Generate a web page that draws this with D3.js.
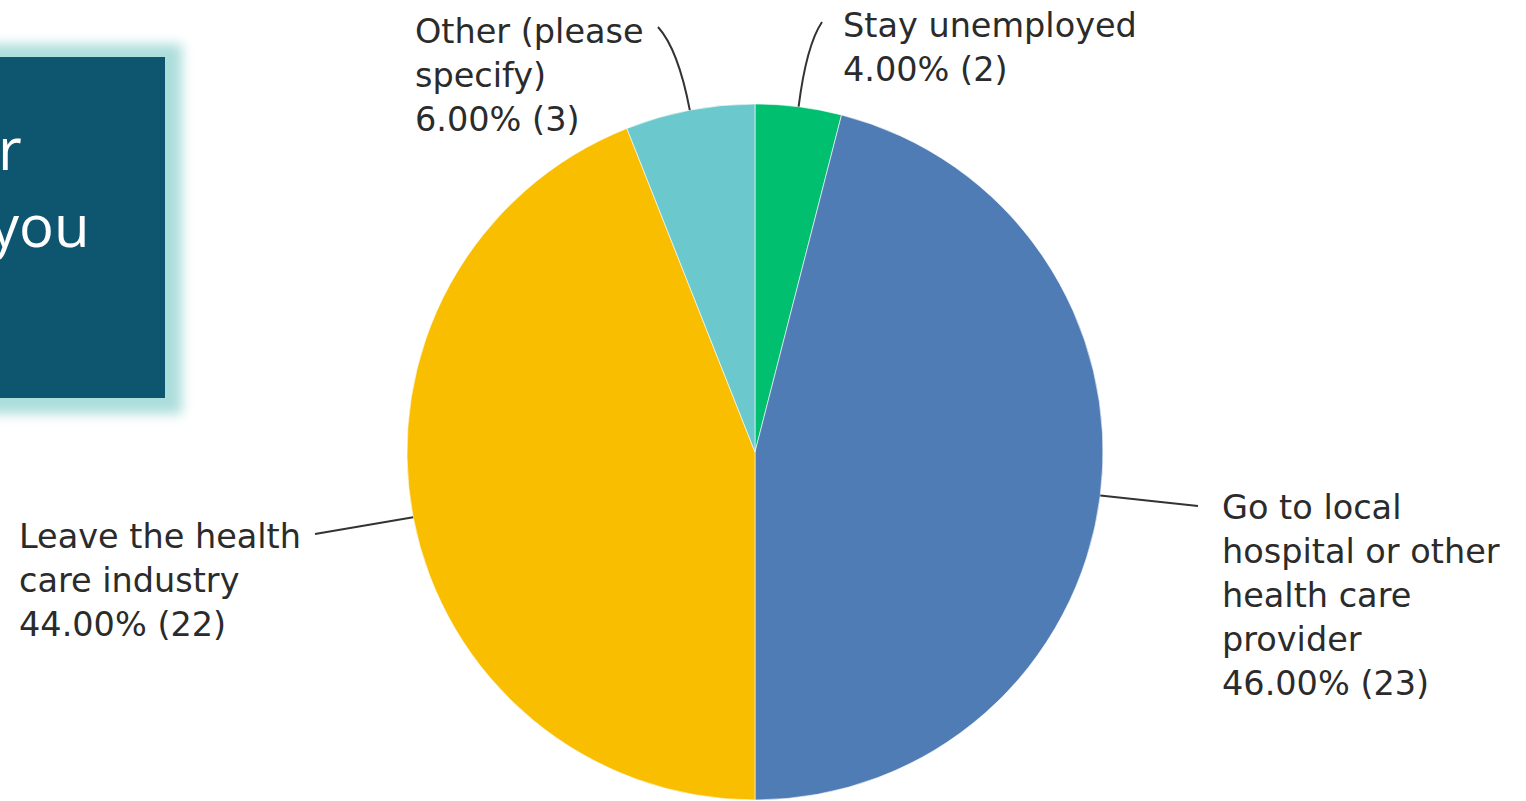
<!DOCTYPE html>
<html>
<head>
<meta charset="utf-8">
<script src="https://cdn.jsdelivr.net/npm/d3@7"></script>
<style>
  body { margin: 0; background: #fff; }
  svg { display: block; }
</style>
</head>
<body>
<div class="canvas"></div>
<script>
// chart data
const categories = ['Stay unemployed', 'Go to local hospital or other health care provider', 'Leave the health care industry', 'Other (please specify)'];
const counts = [2, 23, 22, 3];
const percents = ['4.00%', '46.00%', '44.00%', '6.00%'];
const labelLines = [
    ['Stay unemployed'],
    ['Go to local', 'hospital or other', 'health care', 'provider'],
    ['Leave the health', 'care industry'],
    ['Other (please', 'specify)']
];
const colors = ['#00bf6f', '#507cb6', '#f9be00', '#6bc8cd'];
const boxText = ['r', 'you'];

const width = 1526, height = 801;
const svg = d3.select('.canvas')
    .append('svg')
    .attr('width', width)
    .attr('height', height);

// glowing title box (cut off at the left edge)
const defs = svg.append('defs');
defs.append('filter')
    .attr('id', 'glow')
    .attr('x', '-30%').attr('y', '-30%').attr('width', '160%').attr('height', '160%')
    .append('feGaussianBlur')
    .attr('stdDeviation', 6);

svg.append('rect')
    .attr('x', -30).attr('y', 44)
    .attr('width', 212).attr('height', 370)
    .attr('fill', '#acdedb')
    .attr('filter', 'url(#glow)');

svg.append('rect')
    .attr('x', -10).attr('y', 57)
    .attr('width', 175).attr('height', 341)
    .attr('fill', '#0e5570');

svg.selectAll('.boxtext')
    .data(boxText)
    .enter().append('text')
    .attr('class', 'boxtext')
    .attr('x', (d, i) => i === 0 ? -2 : -10)
    .attr('y', (d, i) => 170 + i * 77)
    .attr('fill', '#ffffff')
    .attr('font-family', '"Open Sans", sans-serif')
    .attr('font-size', 58)
    .text(d => d);

// pie
const cx = 755, cy = 452, radius = 348;
const graph = svg.append('g')
    .attr('transform', 'translate(' + cx + ',' + cy + ')');

const pie = d3.pie().sort(null).value(d => d);
const arcs = pie(counts);
const arc = d3.arc().innerRadius(0).outerRadius(radius);

graph.selectAll('path.slice')
    .data(arcs)
    .enter().append('path')
    .attr('class', 'slice')
    .attr('d', arc)
    .attr('fill', (d, i) => colors[i])
    .attr('stroke', '#ffffff')
    .attr('stroke-width', 0.6);

// leader lines start at the slice's mid angle on the rim
const rimPoint = d => {
    const a = (d.startAngle + d.endAngle) / 2;
    return [cx + radius * Math.sin(a), cy - radius * Math.cos(a)];
};
const lineEnds = [[822, 22], [1198, 506], [315, 534], [658, 27]];
const curved = [true, false, false, true];

svg.selectAll('path.leader')
    .data(arcs)
    .enter().append('path')
    .attr('class', 'leader')
    .attr('fill', 'none')
    .attr('stroke', '#333333')
    .attr('stroke-width', 2)
    .attr('d', (d, i) => {
        const p = rimPoint(d);
        const e = lineEnds[i];
        if (!curved[i]) return 'M' + p[0] + ',' + p[1] + 'L' + e[0] + ',' + e[1];
        const a = (d.startAngle + d.endAngle) / 2;
        const c = [p[0] + 62 * Math.sin(a), p[1] - 62 * Math.cos(a)];
        return 'M' + p[0] + ',' + p[1] + 'Q' + c[0] + ',' + c[1] + ' ' + e[0] + ',' + e[1];
    });

// labels
const labelPos = [[843, 37], [1222, 519], [19, 548], [415, 43]];
const lineGap = 44;

arcs.forEach((d, i) => {
    const lines = labelLines[i].concat([percents[i] + ' (' + counts[i] + ')']);
    const t = svg.append('text')
        .attr('x', labelPos[i][0])
        .attr('y', labelPos[i][1])
        .attr('fill', '#2b2b2b')
        .attr('font-family', '"DejaVu Sans", sans-serif')
        .attr('font-size', 33.5);
    t.selectAll('tspan')
        .data(lines)
        .enter().append('tspan')
        .attr('x', labelPos[i][0])
        .attr('dy', (l, j) => j === 0 ? 0 : lineGap)
        .text(l => l);
});
</script>
</body>
</html>
